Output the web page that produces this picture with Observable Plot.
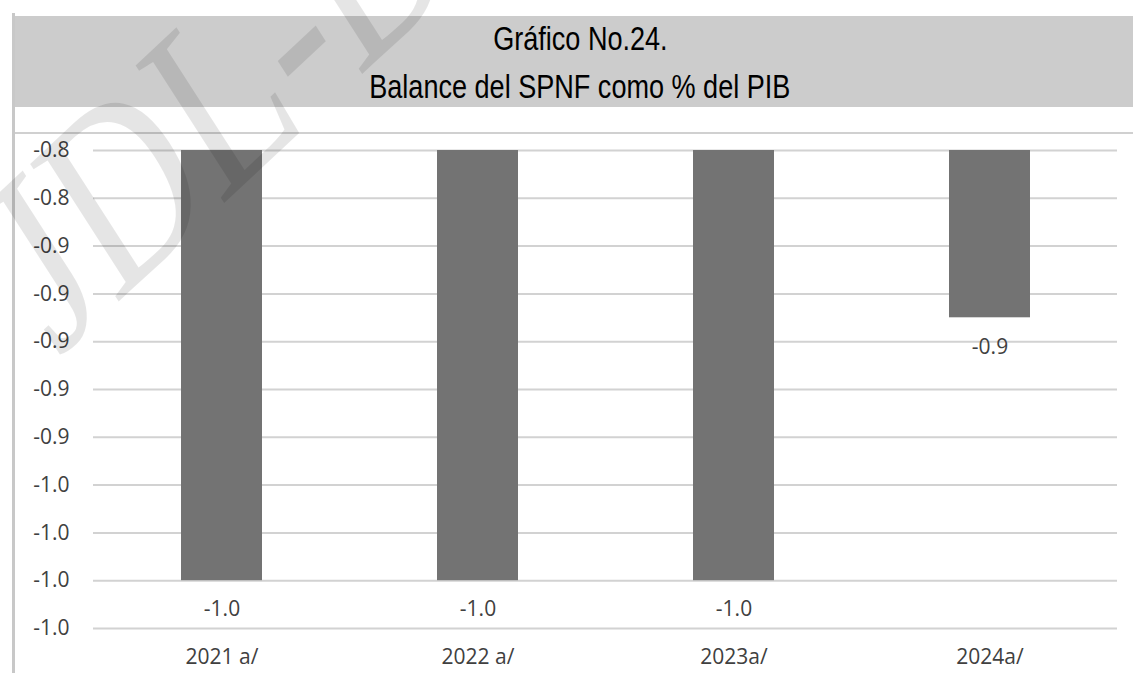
<!DOCTYPE html>
<html><head><meta charset="utf-8">
<script src="https://cdn.jsdelivr.net/npm/d3@7"></script>
<script src="https://cdn.jsdelivr.net/npm/@observablehq/plot@0.6"></script>
<style>
html,body{margin:0;padding:0;background:#fff;}
#page{position:relative;width:1133px;height:673px;overflow:hidden;background:#fff;}
#vline{position:absolute;left:12px;top:13px;width:3px;height:660px;background:#c8c8c8;}
#band{position:absolute;left:15px;top:16px;width:1118px;height:91px;background:#cccccc;}
#title{position:absolute;left:15px;top:15px;width:1130px;text-align:center;margin:0;font-weight:normal;font-size:33px;line-height:47px;}
#title span{display:inline-block;font-family:"Liberation Sans",Arial,sans-serif;font-size:33px;line-height:47px;color:#000;transform:scaleX(0.82);transform-origin:50% 50%;white-space:nowrap;}
#hline{position:absolute;left:15px;top:132px;width:1118px;height:2px;background:#d0d0d0;}
#chart{position:absolute;left:15px;top:134px;}
#wm{position:absolute;left:0;top:0;pointer-events:none;}
</style></head>
<body><div id="page">
<div id="vline"></div>
<div id="band"></div>
<h1 id="title"><span>Gráfico No.24.</span><br><span>Balance del SPNF como % del PIB</span></h1>
<div id="hline"></div>
<div id="chart"></div>
<svg id="wm" width="1133" height="673"><text x="0" y="0" transform="matrix(0.585,-0.546,0.541,0.841,57.5,358.6)" font-family="'Liberation Serif', serif" font-size="250" fill="#000" fill-opacity="0.1">JDL-D</text></svg>
</div>
<script>
const categories = ["2021 a/", "2022 a/", "2023a/", "2024a/"];
const values = [-1.0, -1.0, -1.0, -0.89];
const valueLabels = ["-1.0", "-1.0", "-1.0", "-0.9"];
const yTickValues = [-0.82, -0.84, -0.86, -0.88, -0.90, -0.92, -0.94, -0.96, -0.98, -1.00, -1.02];
const yTickLabels = ["-0.8", "-0.8", "-0.9", "-0.9", "-0.9", "-0.9", "-0.9", "-1.0", "-1.0", "-1.0", "-1.0"];
const axisCrossing = -0.82;
const yDomain = [-1.02, -0.82];

const data = categories.map((c, i) => ({category: c, value: values[i], label: valueLabels[i]}));
const fmtY = d => yTickLabels[yTickValues.findIndex(v => Math.abs(v - d) < 1e-9)];

const chart = Plot.plot({
  width: 1118, height: 539,
  marginTop: 16, marginBottom: 45, marginLeft: 78, marginRight: 16,
  style: {fontFamily: "'Open Sans', sans-serif", fontSize: "21px", color: "#404040", background: "transparent", overflow: "visible"},
  x: {domain: categories, paddingInner: 0.684, paddingOuter: 0.342},
  y: {domain: yDomain},
  marks: [
    Plot.ruleY(yTickValues, {stroke: "#d2d2d2", strokeWidth: 2}),
    Plot.barY(data, {x: "category", y1: axisCrossing, y2: "value", fill: "#737373"}),
    Plot.text(data, {x: "category", y: "value", text: "label", dy: 29, fill: "#404040", fontSize: 21}),
    Plot.axisY(yTickValues, {tickSize: 0, tickPadding: 24, tickFormat: fmtY, fill: "#404040", fontSize: 21, label: null}),
    Plot.axisX({tickSize: 0, tickPadding: 21, fill: "#404040", fontSize: 21, label: null})
  ]
});
document.getElementById("chart").appendChild(chart);
</script>
</body></html>
